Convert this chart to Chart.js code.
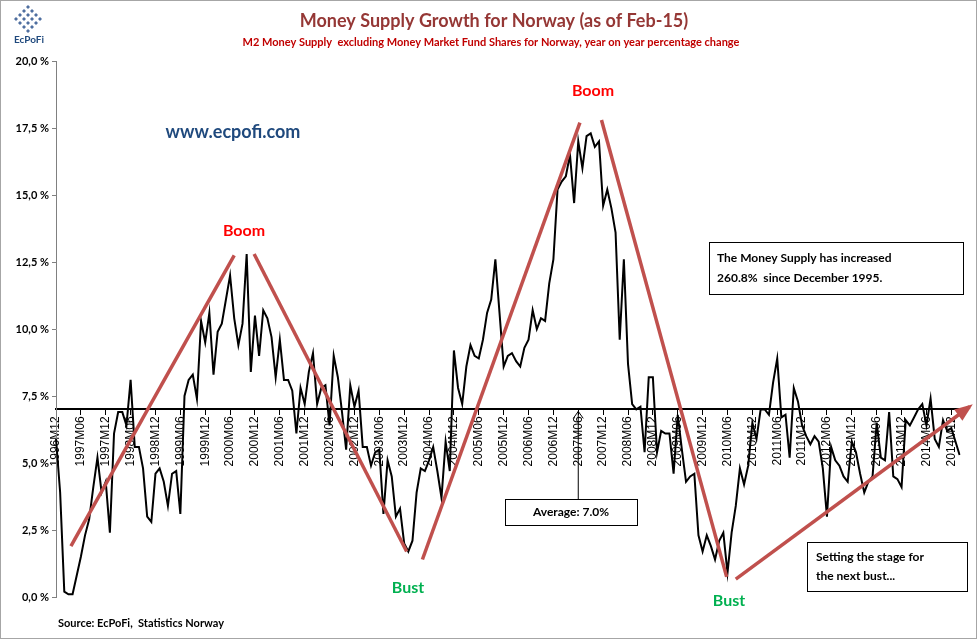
<!DOCTYPE html>
<html>
<head>
<meta charset="utf-8">
<script src="https://cdn.jsdelivr.net/npm/chart.js@4"></script>
<style>
  body { margin: 0; background: #fff; }
  #wrap { width: 975px; height: 637px; border: 1px solid #a6a6a6; position: relative; }
</style>
</head>
<body>
<div id="wrap"><canvas id="m2chart" width="975" height="637"></canvas></div>
<script>
// monthly year-on-year growth, %
const startYear = 1996, startMonth = 12;
const y1996 = [5.9];
const y1997 = [3.9,0.2,0.1,0.1,0.8,1.5,2.3,2.9,4.1,5.2,3.9,4.3];
const y1998 = [2.4,6.1,6.9,6.9,6.4,8.1,5.6,5.6,4.8,3.0,2.8,4.6];
const y1999 = [4.8,4.3,3.4,4.6,4.7,3.1,7.5,8.1,8.3,7.4,10.3,9.5];
const y2000 = [10.6,8.3,9.9,10.2,11.1,12.0,10.4,9.4,10.2,12.8,8.4,10.5];
const y2001 = [9.0,10.7,10.4,9.7,8.2,9.6,8.1,8.1,7.7,6.1,7.8,7.2];
const y2002 = [8.4,9.1,7.2,7.8,7.9,6.4,9.0,8.2,6.9,5.5,7.9,7.1];
const y2003 = [7.7,5.6,5.6,4.9,5.4,5.5,3.1,5.1,4.5,3.0,3.3,2.0];
const y2004 = [1.7,2.1,3.9,4.8,4.7,5.1,5.6,4.7,3.7,5.8,4.7,9.2];
const y2005 = [7.8,7.2,8.6,9.4,9.0,8.9,9.6,10.6,11.1,12.6,10.6,8.6];
const y2006 = [9.0,9.1,8.8,8.6,9.3,9.6,10.7,10.0,10.4,10.3,11.7,12.6];
const y2007 = [15.2,15.5,15.7,16.5,14.7,17.0,16.0,17.2,17.3,16.8,17.0,14.6];
const y2008 = [15.2,14.5,13.6,9.6,12.6,8.7,7.2,7.0,7.1,5.4,8.2,8.2];
const y2009 = [5.4,6.2,6.1,6.1,4.6,6.8,5.5,4.3,4.5,4.6,2.3,1.7];
const y2010 = [2.3,1.9,1.4,2.1,2.4,0.9,2.4,3.4,4.8,4.2,4.9,6.5];
const y2011 = [5.9,7.0,7.0,6.8,8.0,8.9,6.7,6.8,5.2,7.8,7.3,6.4];
const y2012 = [6.0,5.7,6.0,5.8,4.8,3.0,5.6,5.1,4.9,4.5,4.3,5.8];
const y2013 = [5.4,4.6,3.9,4.3,4.5,6.5,5.2,5.1,6.9,4.5,4.4,4.1];
const y2014 = [6.6,6.4,6.7,7.0,7.2,6.4,7.4,5.9,5.6,6.6,6.2,6.3];
const y2015 = [5.8,5.3];
const growth = [].concat(y1996,y1997,y1998,y1999,y2000,y2001,y2002,y2003,y2004,
  y2005,y2006,y2007,y2008,y2009,y2010,y2011,y2012,y2013,y2014,y2015);
const average = 7.0;
const yTicks = [0, 2.5, 5, 7.5, 10, 12.5, 15, 17.5, 20];

// boom / bust trend lines as [monthIndex, value] pairs
const trendLines = [
  [[3.6, 1.9], [43, 12.75]],
  [[47.8, 12.8], [84.6, 1.7]],
  [[88.4, 1.4], [126.4, 17.7]],
  [[131.6, 17.8], [161.8, 0.75]],
  [[164, 0.67], [220.4, 7.1]]
];

const labels = [];
for (let i = 0; i < growth.length; i++) {
  const m = (startMonth - 1 + i) % 12 + 1;
  const yr = startYear + Math.floor((startMonth - 1 + i) / 12);
  labels.push(yr + "M" + (m < 10 ? "0" + m : m));
}
const shown = (l) => l.endsWith("M06") || l.endsWith("M12");

const FONT = "Lato, 'Liberation Sans', sans-serif";

const overlay = {
  id: "overlay",
  afterDatasetsDraw(chart) {
    const c = chart.ctx, xs = chart.scales.x, ys = chart.scales.y;
    c.save();
    c.strokeStyle = "#c0504d";
    c.lineWidth = 3.5;
    trendLines.forEach((ln, i) => {
      const x1 = xs.getPixelForValue(ln[0][0]), y1 = ys.getPixelForValue(ln[0][1]);
      const x2 = xs.getPixelForValue(ln[1][0]), y2 = ys.getPixelForValue(ln[1][1]);
      c.beginPath(); c.moveTo(x1, y1); c.lineTo(x2, y2); c.stroke();
      if (i === trendLines.length - 1) {
        const a = Math.atan2(y2 - y1, x2 - x1);
        c.fillStyle = "#c0504d";
        c.beginPath();
        c.moveTo(x2 + 4 * Math.cos(a), y2 + 4 * Math.sin(a));
        c.lineTo(x2 - 14 * Math.cos(a) + 7 * Math.sin(a), y2 - 14 * Math.sin(a) - 7 * Math.cos(a));
        c.lineTo(x2 - 14 * Math.cos(a) - 7 * Math.sin(a), y2 - 14 * Math.sin(a) + 7 * Math.cos(a));
        c.closePath(); c.fill();
      }
    });
    c.restore();
  },
  afterDraw(chart) {
    const c = chart.ctx, xs = chart.scales.x, ys = chart.scales.y;
    c.save();
    c.textAlign = "center";
    c.textBaseline = "middle";
    c.fillStyle = "#953735";
    c.font = "bold 18px " + FONT;
    c.fillText("Money Supply Growth for Norway (as of Feb-15)", 493, 20);
    c.fillStyle = "#c00000";
    c.font = "bold 11px " + FONT;
    c.fillText("M2 Money Supply  excluding Money Market Fund Shares for Norway, year on year percentage change", 490, 41);

    c.fillStyle = "#1f497d";
    c.font = "bold 18px " + FONT;
    c.fillText("www.ecpofi.com", 232, 131);

    c.font = "bold 16px " + FONT;
    c.fillStyle = "#ff0000";
    c.fillText("Boom", 243, 230);
    c.fillText("Boom", 592, 90);
    c.fillStyle = "#00b050";
    c.fillText("Bust", 407, 587);
    c.fillText("Bust", 728, 600);

    // logo
    c.fillStyle = "#4f6fa0";
    for (let r = 0; r < 4; r++) for (let k = 0; k < 4; k++) {
      const cx = 27 + (k - r) * 4, cy = 6 + (k + r) * 4;
      c.beginPath(); c.moveTo(cx, cy - 2); c.lineTo(cx + 2, cy); c.lineTo(cx, cy + 2); c.lineTo(cx - 2, cy); c.fill();
    }
    c.font = "bold 10px " + FONT;
    c.fillStyle = "#1f497d";
    c.fillText("EcPoFi", 28, 39);

    // boxes
    c.strokeStyle = "#000"; c.lineWidth = 1;
    c.fillStyle = "#fff";
    c.font = "bold 12px " + FONT;
    c.textAlign = "left";
    c.fillRect(708, 241, 254, 52); c.strokeRect(708.5, 241.5, 254, 52);
    c.fillStyle = "#000";
    c.fillText("The Money Supply has increased", 716, 257);
    c.fillText("260.8%  since December 1995.", 716, 277);

    c.fillStyle = "#fff";
    c.fillRect(806, 541, 160, 49); c.strokeRect(806.5, 541.5, 160, 49);
    c.fillStyle = "#000";
    c.fillText("Setting the stage for", 815, 556);
    c.fillText("the next bust...", 815, 575);

    const ax = xs.getPixelForValue(126), ay = ys.getPixelForValue(average);
    c.beginPath(); c.moveTo(ax, 498); c.lineTo(ax, ay + 2); c.stroke();
    c.beginPath(); c.moveTo(ax - 5, ay + 9); c.lineTo(ax, ay + 2); c.lineTo(ax + 5, ay + 9); c.stroke();
    c.fillStyle = "#fff";
    c.fillRect(504, 498, 132, 26); c.strokeRect(504.5, 498.5, 132, 26);
    c.fillStyle = "#000";
    c.textAlign = "center";
    c.fillText("Average: 7.0%", 570, 511);

    c.textAlign = "left";
    c.font = "bold 11px " + FONT;
    c.fillText("Source: EcPoFi,  Statistics Norway", 57, 622);
    c.restore();
  }
};

new Chart(document.getElementById("m2chart"), {
  type: "line",
  data: {
    labels: labels,
    datasets: [{
      data: growth,
      borderColor: "#000",
      borderWidth: 2,
      pointRadius: 0,
      tension: 0
    }]
  },
  options: {
    responsive: false,
    animation: false,
    layout: { padding: { top: 60, right: 7, bottom: 41, left: 0 } },
    plugins: { legend: { display: false }, tooltip: { enabled: false } },
    scales: {
      x: {
        position: { y: average },
        grid: {
          drawOnChartArea: false,
          tickLength: 5,
          color: (ctx) => (ctx.tick && shown(ctx.tick.label || "")) ? "#000" : "rgba(0,0,0,0)"
        },
        border: { color: "#000", width: 2 },
        ticks: {
          autoSkip: false,
          maxRotation: 90,
          minRotation: 90,
          padding: 2,
          color: "#000",
          font: { family: "'Liberation Sans', Arial, sans-serif", size: 12 },
          callback: function (v) { const l = this.getLabelForValue(v); return shown(l) ? l : ""; }
        }
      },
      y: {
        min: 0, max: 20,
        afterFit: (s) => { s.width = 55; },
        afterBuildTicks: (s) => { s.ticks = yTicks.map(v => ({ value: v })); },
        grid: { drawOnChartArea: false, tickLength: 4, color: "#808080" },
        border: { color: "#808080" },
        ticks: {
          color: "#000",
          padding: 3,
          font: { family: FONT, size: 11, weight: "bold" },
          callback: (v) => v.toFixed(1).replace(".", ",") + " %"
        }
      }
    }
  },
  plugins: [overlay]
});
</script>
</body>
</html>
